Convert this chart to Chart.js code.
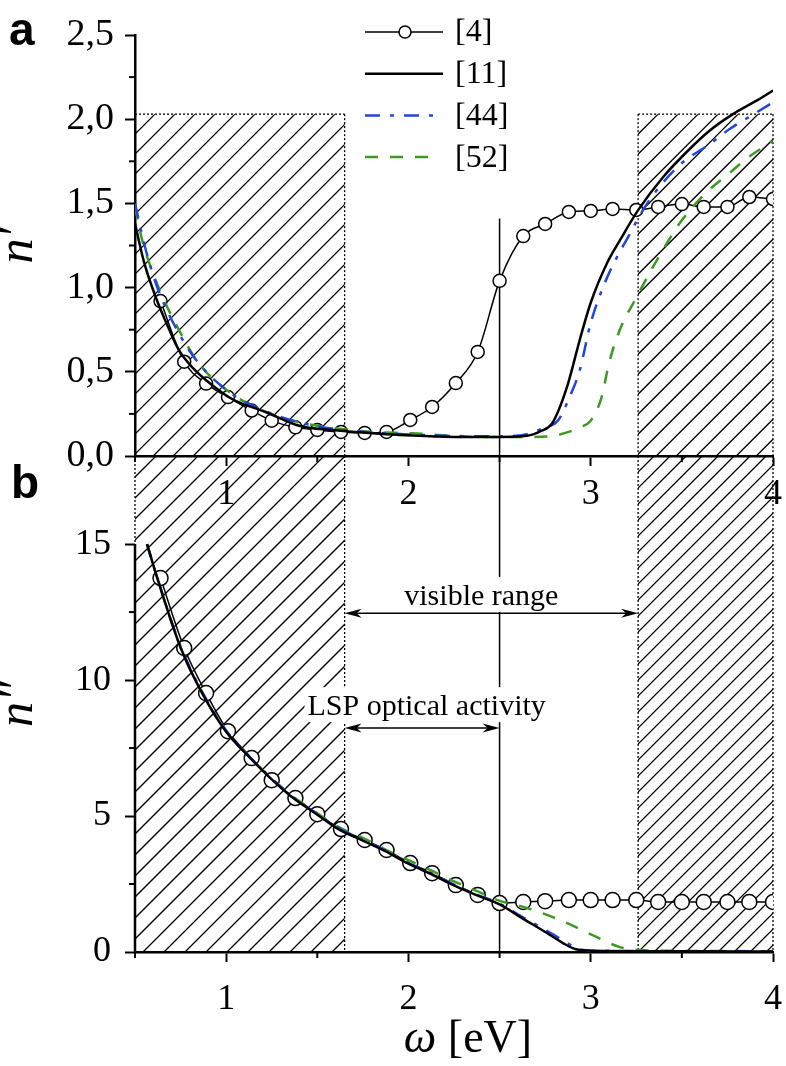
<!DOCTYPE html>
<html><head><meta charset="utf-8">
<script src="https://cdn.jsdelivr.net/npm/chart.js@4.4.0/dist/chart.umd.min.js"></script>
<style>
html,body{margin:0;padding:0;background:#fff;}
#wrap{position:relative;width:786px;height:1066px;overflow:hidden;}
canvas{position:absolute;left:0;top:0;}
</style></head><body>
<div id="wrap"><canvas id="cb" width="786" height="1066"></canvas><canvas id="ca" width="786" height="1066"></canvas></div>
<script>
// ---------- data ----------
const seriesLabels = ['[4]', '[11]', '[44]', '[52]'];
// ref [4] (circles), same photon-energy grid in both panels
const energyRef4 = [0.64,0.77,0.89,1.01,1.14,1.25,1.38,1.50,1.63,1.76,1.88,2.01,2.13,2.26,2.38,2.50,2.63,2.75,2.88,3.00,3.12,3.25,3.37,3.50,3.62,3.75,3.87,4.00];
const nRealRef4 = [0.92,0.56,0.43,0.35,0.27,0.21,0.17,0.155,0.143,0.137,0.143,0.214,0.291,0.433,0.618,1.04,1.306,1.378,1.449,1.455,1.467,1.461,1.479,1.496,1.479,1.479,1.538,1.526];
const nImagRef4 = [13.75,11.18,9.52,8.12,7.13,6.32,5.66,5.07,4.52,4.12,3.75,3.27,2.90,2.46,2.10,1.80,1.84,1.87,1.91,1.91,1.91,1.91,1.84,1.84,1.84,1.84,1.84,1.84];
// ref [11]
const energyRef11Real = [0.50,0.55,0.615,0.68,0.74,0.82,0.89,1.03,1.22,1.40,1.58,1.80,1.95,2.20,2.50,2.65,2.73,2.79,2.87,2.94,3.00,3.09,3.16,3.26,3.40,3.54,3.65,3.78,3.91,4.00];
const nRealRef11 = [1.38,1.15,0.94,0.77,0.63,0.52,0.45,0.34,0.26,0.18,0.154,0.135,0.125,0.115,0.113,0.12,0.15,0.196,0.41,0.69,0.91,1.146,1.28,1.46,1.66,1.82,1.93,2.03,2.11,2.17];
const energyRef11Imag = [0.566,0.62,0.75,0.87,1.00,1.13,1.25,1.37,1.50,1.62,1.75,1.87,2.00,2.13,2.25,2.37,2.50,2.63,2.76,2.85,2.92,3.00,3.50,4.00];
const nImagRef11 = [15.0,13.8,11.2,9.5,8.1,7.15,6.35,5.65,5.05,4.5,4.1,3.72,3.25,2.85,2.45,2.1,1.75,1.22,0.7,0.32,0.1,0.05,0.03,0.02];
// ref [44]
const energyRef44Real = [0.50,0.56,0.63,0.74,0.85,1.03,1.22,1.40,1.60,1.80,2.00,2.30,2.50,2.65,2.75,2.82,2.88,2.94,3.00,3.09,3.21,3.31,3.49,3.65,3.76,3.91,4.00];
const nRealRef44 = [1.50,1.22,0.98,0.73,0.55,0.37,0.265,0.20,0.16,0.14,0.128,0.118,0.117,0.13,0.17,0.21,0.34,0.51,0.79,1.06,1.31,1.50,1.73,1.85,1.94,2.04,2.10];
const energyRef44Imag = [0.566,0.62,0.75,0.87,1.00,1.13,1.25,1.37,1.50,1.62,1.75,1.87,2.00,2.13,2.25,2.37,2.50,2.63,2.76,2.86,2.93,3.00,3.50,4.00];
const nImagRef44 = [15.0,13.8,11.25,9.55,8.15,7.18,6.38,5.68,5.08,4.55,4.12,3.75,3.28,2.88,2.48,2.12,1.78,1.27,0.78,0.38,0.12,0.05,0.03,0.02];
// ref [52]
const energyRef52Real = [0.50,0.54,0.63,0.74,0.85,1.03,1.22,1.40,1.60,1.77,2.02,2.39,2.68,2.80,2.87,2.94,3.00,3.06,3.10,3.16,3.25,3.34,3.45,3.50,3.63,3.75,3.86,4.00];
const nRealRef52 = [1.48,1.28,1.00,0.75,0.55,0.37,0.26,0.20,0.165,0.145,0.135,0.113,0.113,0.12,0.14,0.17,0.21,0.35,0.55,0.75,0.94,1.12,1.32,1.40,1.56,1.67,1.77,1.87];
const energyRef52Imag = [0.566,0.62,0.75,0.87,1.00,1.13,1.25,1.37,1.50,1.62,1.75,1.90,2.00,2.13,2.25,2.39,2.49,2.65,2.83,3.01,3.16,3.27,3.50,4.00];
const nImagRef52 = [15.0,13.8,11.2,9.5,8.12,7.17,6.38,5.7,5.1,4.58,4.2,3.68,3.38,2.98,2.6,2.2,1.91,1.62,1.18,0.62,0.18,0.07,0.04,0.03];

// axes / ticks
const energyMin = 0.5, energyMax = 4.0;
const energyTicks = [1, 2, 3, 4];
const energyMinorTicks = [0.5, 1.5, 2.5, 3.5];
const nRealMax = 2.5;
const nRealTicks = [0, 0.5, 1.0, 1.5, 2.0, 2.5];
const nRealMinorTicks = [0.25, 0.75, 1.25, 1.75, 2.25];
const nImagMax = 18.24;
const nImagTicks = [0, 5, 10, 15];
const nImagMinorTicks = [2.5, 7.5, 12.5];
const nImagAxisTop = 15;

// annotations (data units)
const hatchBands = [[0.5, 1.65], [3.26, 4.0]];
const hatchTopNReal = 2.03;
const markerEnergy = 2.5;
const markerTopNReal = 1.41;
const visibleRange = {from: 1.65, to: 3.26, level: 12.46, text: 'visible range', textE: 2.40, textLevel: 12.76};
const lspRange = {from: 1.65, to: 2.5, level: 8.24, text: 'LSP optical activity', textE: 2.10, textLevel: 8.71};

// ---------- styles ----------
const SERIF = '"Liberation Serif","Times New Roman",serif';
const SANS = '"Liberation Sans",Arial,sans-serif';
const BLUE = '#2046dc';
const GREEN = '#3c9a22';
const zip = (xs, ys) => xs.map((x, i) => ({x, y: ys[i]}));

function hatchRect(ctx, l, r, t, b, step) {
  ctx.save();
  ctx.beginPath(); ctx.rect(l, t, r - l, b - t); ctx.clip();
  ctx.strokeStyle = '#000'; ctx.lineWidth = 1.3;
  ctx.beginPath();
  const h = b - t;
  for (let x = l - h; x <= r + step; x += step) { ctx.moveTo(x, b); ctx.lineTo(x + h, t); }
  ctx.stroke();
  ctx.restore();
}
function dotted(ctx, x0, y0, x1, y1) {
  ctx.save(); ctx.setLineDash([2, 2]); ctx.lineWidth = 1.3; ctx.strokeStyle = '#000';
  ctx.beginPath(); ctx.moveTo(x0, y0); ctx.lineTo(x1, y1); ctx.stroke(); ctx.restore();
}
function solid(ctx, x0, y0, x1, y1, w) {
  ctx.save(); ctx.lineWidth = w; ctx.strokeStyle = '#000';
  ctx.beginPath(); ctx.moveTo(x0, y0); ctx.lineTo(x1, y1); ctx.stroke(); ctx.restore();
}
function xMinor(ctx, xs, yPix, vals, len) {
  vals.forEach(v => solid(ctx, xs.getPixelForValue(v), yPix, xs.getPixelForValue(v), yPix + len, 2));
}
function yMinor(ctx, ys, xPix, vals, len) {
  vals.forEach(v => solid(ctx, xPix - len, ys.getPixelForValue(v), xPix, ys.getPixelForValue(v), 2));
}
function arrowHead(ctx, tipX, y, dir) {
  ctx.beginPath();
  ctx.moveTo(tipX, y);
  ctx.lineTo(tipX - dir * 17, y - 4.5);
  ctx.lineTo(tipX - dir * 12, y);
  ctx.lineTo(tipX - dir * 17, y + 4.5);
  ctx.closePath(); ctx.fill();
}
function rangeArrow(ctx, xs, ys, r) {
  const x0 = xs.getPixelForValue(r.from), x1 = xs.getPixelForValue(r.to), y = ys.getPixelForValue(r.level);
  ctx.save();
  ctx.font = '30px ' + SERIF;
  const w = ctx.measureText(r.text).width;
  const cx = xs.getPixelForValue(r.textE), by = ys.getPixelForValue(r.textLevel);
  ctx.fillStyle = '#fff';
  ctx.fillRect(cx - w / 2 - 3, by - 28, w + 6, 35);
  ctx.fillStyle = '#000';
  ctx.textAlign = 'center'; ctx.textBaseline = 'alphabetic';
  ctx.fillText(r.text, cx, by);
  ctx.lineWidth = 1.5; ctx.strokeStyle = '#000';
  ctx.beginPath(); ctx.moveTo(x0 + 6, y); ctx.lineTo(x1 - 6, y); ctx.stroke();
  arrowHead(ctx, x0, y, -1);
  arrowHead(ctx, x1, y, 1);
  ctx.restore();
}

// ---------- top panel plugin ----------
const topDecor = {
  id: 'topDecor',
  beforeDatasetsDraw(chart) {
    const {ctx, scales: {x, y}} = chart;
    const t = y.getPixelForValue(hatchTopNReal), b = y.getPixelForValue(0);
    hatchBands.forEach(([e0, e1]) => {
      const l = x.getPixelForValue(e0), r = x.getPixelForValue(e1);
      hatchRect(ctx, l, r, t, b, 20);
      dotted(ctx, l, t, r, t);
      dotted(ctx, l, t, l, b);
      dotted(ctx, r, t, r, b);
    });
    const mx = x.getPixelForValue(markerEnergy);
    solid(ctx, mx, y.getPixelForValue(markerTopNReal), mx, b, 1.5);
  },
  afterDraw(chart) {
    const {ctx, scales: {x, y}, chartArea: a} = chart;
    xMinor(ctx, x, a.bottom, energyMinorTicks, 6);
    yMinor(ctx, y, a.left, nRealMinorTicks, 6);
    // legend
    ctx.save();
    chart.data.datasets.forEach((ds, i) => {
      const ly = 32 + i * 41.7;
      const x0 = 365, x1 = ds.borderDash && ds.borderDash.length === 2 ? 435 : 443;
      ctx.setLineDash(ds.borderDash || []);
      ctx.strokeStyle = ds.borderColor; ctx.lineWidth = ds.borderWidth;
      ctx.beginPath(); ctx.moveTo(x0, ly); ctx.lineTo(x1, ly); ctx.stroke();
      ctx.setLineDash([]);
      if (ds.pointRadius > 0) {
        ctx.beginPath(); ctx.arc(405, ly, 6, 0, Math.PI * 2);
        ctx.fillStyle = ds.pointBackgroundColor; ctx.fill();
        ctx.lineWidth = ds.pointBorderWidth; ctx.strokeStyle = ds.pointBorderColor; ctx.stroke();
      }
      ctx.fillStyle = '#000'; ctx.font = '32px ' + SERIF;
      ctx.textAlign = 'left'; ctx.textBaseline = 'middle';
      ctx.fillText(ds.label, 455, ly + 1);
    });
    // panel label
    ctx.font = 'bold 46px ' + SANS; ctx.textAlign = 'left'; ctx.textBaseline = 'alphabetic';
    ctx.fillText('a', 9, 45);
    ctx.restore();
  }
};

// ---------- bottom panel plugin ----------
const bottomDecor = {
  id: 'bottomDecor',
  beforeDatasetsDraw(chart) {
    const {ctx, scales: {x, y}, chartArea: a} = chart;
    const t = a.top, b = y.getPixelForValue(0);
    hatchBands.forEach(([e0, e1], i) => {
      const l = x.getPixelForValue(e0), r = x.getPixelForValue(e1);
      hatchRect(ctx, l, r, t, b, i === 0 ? 21 : 16);
      dotted(ctx, l, t, l, b);
      dotted(ctx, r, t, r, b);
    });
    const mx = x.getPixelForValue(markerEnergy);
    solid(ctx, mx, t, mx, b, 1.5);
    // y axis line only up to the last labelled tick
    solid(ctx, a.left, y.getPixelForValue(nImagAxisTop), a.left, b + 1, 2.5);
  },
  afterDatasetsDraw(chart) {
    const {ctx, scales: {x, y}} = chart;
    rangeArrow(ctx, x, y, visibleRange);
    rangeArrow(ctx, x, y, lspRange);
  },
  afterDraw(chart) {
    const {ctx, scales: {x, y}, chartArea: a} = chart;
    xMinor(ctx, x, a.bottom, energyMinorTicks, 6);
    yMinor(ctx, y, a.left, nImagMinorTicks, 6);
    ctx.save();
    ctx.fillStyle = '#000';
    ctx.font = 'bold 46px ' + SANS; ctx.textAlign = 'left'; ctx.textBaseline = 'alphabetic';
    ctx.fillText('b', 11, 498);
    // x axis title: italic omega + [eV]
    const f1 = 'italic 46px ' + SERIF, f2 = '46px ' + SERIF;
    ctx.font = f1; const w1 = ctx.measureText('ω').width;
    ctx.font = f2; const w2 = ctx.measureText(' [eV]').width;
    const cx = (a.left + a.right) / 2 + 14, by = 1052;
    const sx = cx - (w1 + w2) / 2;
    ctx.font = f1; ctx.fillText('ω', sx, by);
    ctx.font = f2; ctx.fillText(' [eV]', sx + w1, by);
    ctx.restore();
  }
};

function lineDs(label, data, color, width, dash) {
  return {label, data, borderColor: color, borderWidth: width, borderDash: dash,
    pointRadius: 0, fill: false, cubicInterpolationMode: 'monotone', order: 0};
}
function circleDs(label, data, r) {
  return {label, data, borderColor: '#000', borderWidth: 1.5, borderDash: [],
    pointRadius: r, pointHoverRadius: r, pointBackgroundColor: '#fff', pointBorderColor: '#000', pointBorderWidth: 1.5,
    fill: false, cubicInterpolationMode: 'monotone', order: 1};
}
const tickFont = (s) => ({family: SERIF, size: s});
const tickGrid = {display: true, drawOnChartArea: false, drawTicks: true, tickLength: 10, tickWidth: 2, tickColor: '#000'};
function fixX(h) { return function (s) { s.height = h; s.paddingLeft = 0; s.paddingRight = 0; }; }
function fixY(s) { s.width = 135; s.paddingTop = 0; s.paddingBottom = 0; }

// ---------- top chart ----------
new Chart(document.getElementById('ca'), {
  type: 'line',
  data: {datasets: [
    circleDs(seriesLabels[0], zip(energyRef4, nRealRef4), 6.5),
    lineDs(seriesLabels[1], zip(energyRef11Real, nRealRef11), '#000', 2.5, []),
    lineDs(seriesLabels[2], zip(energyRef44Real, nRealRef44), BLUE, 2.5, [15, 10, 4, 10]),
    lineDs(seriesLabels[3], zip(energyRef52Real, nRealRef52), GREEN, 2.5, [13, 12])
  ]},
  options: {
    responsive: false, animation: false, devicePixelRatio: 1,
    layout: {padding: {left: 0, right: 13, top: 35, bottom: 550}},
    plugins: {legend: {display: false}, tooltip: {enabled: false}},
    events: [],
    scales: {
      x: {type: 'linear', position: 'bottom', min: energyMin, max: energyMax,
        afterFit: fixX(60),
        afterBuildTicks(s) { s.ticks = energyTicks.map(v => ({value: v})); },
        grid: tickGrid, border: {display: true, color: '#000', width: 2.5},
        ticks: {font: tickFont(36), color: '#000', padding: 7, maxRotation: 0, autoSkip: false, callback: v => String(v)}},
      y: {type: 'linear', min: 0, max: nRealMax,
        afterFit: fixY,
        afterBuildTicks(s) { s.ticks = nRealTicks.map(v => ({value: v})); },
        grid: tickGrid, border: {display: true, color: '#000', width: 2.5},
        ticks: {font: tickFont(38), color: '#000', padding: 11, autoSkip: false, callback: v => v.toFixed(1).replace('.', ',')},
        title: {display: true, text: 'n′', color: '#000', padding: 0, font: {family: SERIF, size: 50, style: 'italic', lineHeight: 0.76}}}
    }
  },
  plugins: [topDecor]
});

// ---------- bottom chart ----------
new Chart(document.getElementById('cb'), {
  type: 'line',
  data: {datasets: [
    circleDs(seriesLabels[0], zip(energyRef4, nImagRef4), 7.5),
    lineDs(seriesLabels[1], zip(energyRef11Imag, nImagRef11), '#000', 2.5, []),
    lineDs(seriesLabels[2], zip(energyRef44Imag, nImagRef44), BLUE, 2.5, [15, 10, 4, 10]),
    lineDs(seriesLabels[3], zip(energyRef52Imag, nImagRef52), GREEN, 2.5, [13, 12])
  ]},
  options: {
    responsive: false, animation: false, devicePixelRatio: 1,
    layout: {padding: {left: 0, right: 13, top: 456, bottom: 0}},
    plugins: {legend: {display: false}, tooltip: {enabled: false}},
    events: [],
    scales: {
      x: {type: 'linear', position: 'bottom', min: energyMin, max: energyMax,
        afterFit: fixX(114),
        afterBuildTicks(s) { s.ticks = energyTicks.map(v => ({value: v})); },
        grid: tickGrid, border: {display: true, color: '#000', width: 2.5},
        ticks: {font: tickFont(36), color: '#000', padding: 16, maxRotation: 0, autoSkip: false, callback: v => String(v)}},
      y: {type: 'linear', min: 0, max: nImagMax,
        afterFit: fixY,
        afterBuildTicks(s) { s.ticks = nImagTicks.map(v => ({value: v})); },
        grid: tickGrid, border: {display: false},
        ticks: {font: tickFont(36), color: '#000', padding: 14, autoSkip: false, callback: v => String(v)},
        title: {display: true, text: 'n″', color: '#000', padding: 0, font: {family: SERIF, size: 50, style: 'italic', lineHeight: 0.76}}}
    }
  },
  plugins: [bottomDecor]
});
</script>
</body></html>
